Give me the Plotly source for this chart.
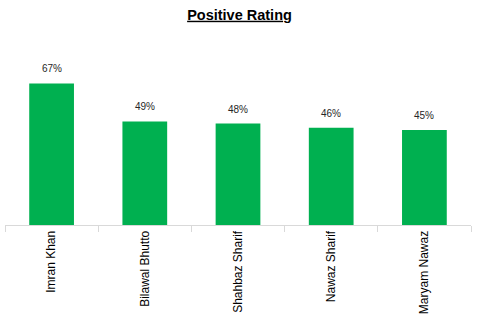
import plotly.graph_objects as go

categories = ["Imran Khan", "Bilawal Bhutto", "Shahbaz Sharif", "Nawaz Sharif", "Maryam Nawaz"]
values = [67, 49, 48, 46, 45]
labels = [f"{v}%" for v in values]

fig = go.Figure()
fig.add_trace(go.Bar(
    x=categories, y=values, width=0.48,
    marker=dict(color="#00B050", line=dict(width=0)),
    hoverinfo="skip",
))
for c, v, t in zip(categories, values, labels):
    fig.add_annotation(x=c, y=v, text=t, showarrow=False, yanchor="bottom",
                       yshift=7, font=dict(family="Liberation Sans, Arial", size=10, color="#262626"))

fig.update_layout(
    width=479, height=326,
    margin=dict(l=5, r=8, t=56, b=101),
    paper_bgcolor="white", plot_bgcolor="white",
    showlegend=False,
    title=dict(text="<b><u>Positive Rating</u></b>", x=0.5, xanchor="center", y=0.955, yanchor="middle",
               font=dict(family="Liberation Sans, Arial", size=14.5, color="black")),
    xaxis=dict(range=[-0.5, 4.5], showline=True, linecolor="#d9d9d9", linewidth=1,
               ticks="outside", tickson="boundaries", ticklen=6, tickcolor="#d9d9d9",
               tickangle=-90, tickfont=dict(family="Liberation Sans, Arial", size=12, color="black"),
               showgrid=False),
    yaxis=dict(range=[0, 80], visible=False, showgrid=False, zeroline=False),
)
fig.write_html("out.html")
